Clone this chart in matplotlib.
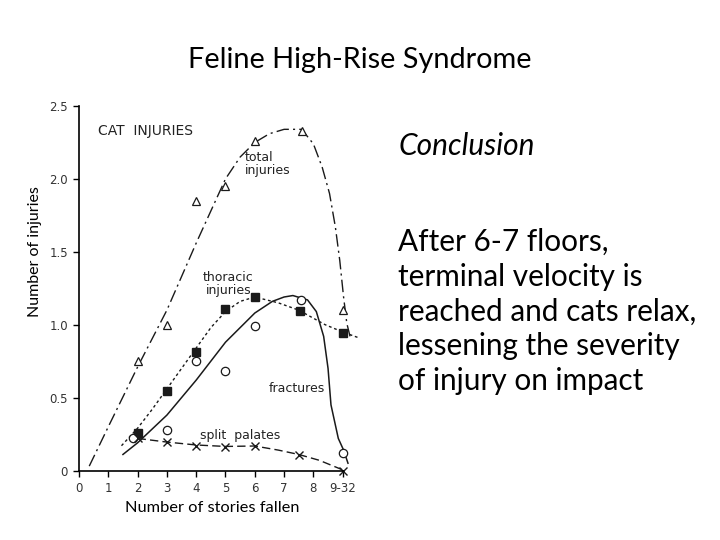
import matplotlib
matplotlib.use("Agg")
import matplotlib.pyplot as plt

# marker data (x = stories fallen, 9 stands for 9-32)
tot_x = [2, 3, 4, 5, 6, 7.6, 9]
tot_y = [0.75, 1.00, 1.85, 1.95, 2.26, 2.33, 1.10]
thor_x = [2, 3, 4, 5, 6, 7.55, 9]
thor_y = [0.26, 0.545, 0.815, 1.11, 1.19, 1.095, 0.945]
frac_x = [1.83, 3, 4, 5, 6, 7.58, 9]
frac_y = [0.225, 0.28, 0.75, 0.68, 0.99, 1.17, 0.12]
split_x = [2, 3, 4, 5, 6, 7.52, 9]
split_y = [0.22, 0.195, 0.17, 0.163, 0.17, 0.106, 0.0]

# hand drawn trend curves
tot_cx = [0.35, 1.0, 2.0, 3.0, 4.0, 5.0, 5.5, 6.0, 6.5, 7.0, 7.6, 8.0, 8.3, 8.55, 8.75, 8.9, 9.03, 9.14, 9.25]
tot_cy = [0.03, 0.30, 0.71, 1.10, 1.56, 2.00, 2.15, 2.25, 2.31, 2.34, 2.34, 2.24, 2.08, 1.90, 1.67, 1.44, 1.19, 1.01, 0.92]
thor_cx = [1.45, 2.0, 2.5, 3.0, 3.5, 4.0, 4.5, 5.0, 5.5, 6.0, 6.8, 7.5, 8.4, 9.0, 9.55]
thor_cy = [0.17, 0.29, 0.42, 0.56, 0.70, 0.84, 0.98, 1.09, 1.16, 1.19, 1.15, 1.10, 1.00, 0.95, 0.91]
frac_cx = [1.5, 2.0, 3.0, 4.0, 5.0, 6.0, 6.6, 7.0, 7.3, 7.8, 8.1, 8.35, 8.5, 8.6, 8.85, 9.03, 9.18]
frac_cy = [0.11, 0.19, 0.38, 0.62, 0.88, 1.08, 1.16, 1.19, 1.20, 1.17, 1.09, 0.92, 0.70, 0.45, 0.22, 0.14, 0.05]
split_cx = [2.0, 3.0, 4.0, 5.0, 6.0, 6.8, 7.5, 8.2, 9.05]
split_cy = [0.22, 0.195, 0.175, 0.165, 0.168, 0.14, 0.11, 0.07, 0.0]

x_ticks = [0, 1, 2, 3, 4, 5, 6, 7, 8, 9]
x_labels = ["0", "1", "2", "3", "4", "5", "6", "7", "8", "9-32"]
y_ticks = [0, 0.5, 1.0, 1.5, 2.0, 2.5]
y_labels = ["0", "0.5", "1.0", "1.5", "2.0", "2.5"]

title = "Feline High-Rise Syndrome"
side_head = "Conclusion"
side_lines = ["After 6-7 floors,", "terminal velocity is",
              "reached and cats relax,", "lessening the severity",
              "of injury on impact"]

W, H = 720, 540
fig = plt.figure(figsize=(7.2, 5.4), dpi=100)
slide_font = "Lato"

def fx(px):
    return px / W

def fy(py):
    return 1 - py / H

# slide texts
fig.text(fx(360), fy(68), title, ha="center", va="baseline",
         fontsize=20.8, family=slide_font)
fig.text(fx(399), fy(155), side_head, ha="left", va="baseline",
         fontsize=21.5, family=slide_font, style="italic")
for i, line in enumerate(side_lines):
    fig.text(fx(398), fy(251 + 34.75 * i), line, ha="left", va="baseline",
             fontsize=21.4, family=slide_font)
fig.text(fx(35), fy(252), "Number of injuries", rotation=90,
         ha="center", va="center", fontsize=11.5, family=slide_font)
fig.text(fx(212), fy(508), "Number of stories fallen", ha="center",
         va="center", fontsize=11.8, family=slide_font)

# the scanned chart
ax = fig.add_axes([fx(79), fy(470.5), 9.6 * 29.3 / W, 364.5 / H])
ax.set_xlim(0, 9.6)
ax.set_ylim(0, 2.5)

ink = "#1a1a1a"
ax.plot(tot_cx, tot_cy, color=ink, lw=1, linestyle=(0, (9, 3, 1.5, 3)), clip_on=False)
ax.plot(thor_cx, thor_cy, color=ink, lw=1, linestyle=(0, (2, 2)), clip_on=False)
ax.plot(frac_cx, frac_cy, color=ink, lw=1.1, clip_on=False)
ax.plot(split_cx, split_cy, color=ink, lw=1, linestyle=(0, (6, 3)), clip_on=False)

ax.plot(tot_x, tot_y, "^", ms=6, mfc="white", mec=ink, mew=0.9, ls="none", clip_on=False)
ax.plot(thor_x, thor_y, "s", ms=6, mfc=ink, mec=ink, ls="none", clip_on=False)
ax.plot(frac_x, frac_y, "o", ms=6, mfc="white", mec=ink, mew=0.9, ls="none", clip_on=False)
ax.plot(split_x, split_y, "x", ms=6, mec=ink, mew=1, ls="none", clip_on=False)

lab = dict(color="#222222", family="DejaVu Sans", fontsize=9)
ax.text(0.65, 2.33, "CAT  INJURIES", va="center", ha="left", color="#222222",
        family="DejaVu Sans", fontsize=10)
ax.text(5.67, 2.105, "total\ninjuries", va="center", ha="left", linespacing=1.0, **lab)
ax.text(5.1, 1.28, "thoracic\ninjuries", va="center", ha="center", linespacing=1.0, **lab)
ax.text(6.46, 0.56, "fractures", va="center", ha="left", **lab)
ax.text(4.13, 0.24, "split  palates", va="center", ha="left", **lab)

for side in ["top", "right"]:
    ax.spines[side].set_visible(False)
ax.spines["bottom"].set_bounds(0, 9)
ax.spines["left"].set_linewidth(1.2)
ax.spines["bottom"].set_linewidth(1.2)
ax.set_xticks(x_ticks)
ax.set_xticklabels(x_labels)
ax.set_yticks(y_ticks)
ax.set_yticklabels(y_labels)
ax.tick_params(length=4, width=1, labelsize=8.5, labelcolor="#333333", pad=4)

fig.savefig("out.png", dpi=100)
